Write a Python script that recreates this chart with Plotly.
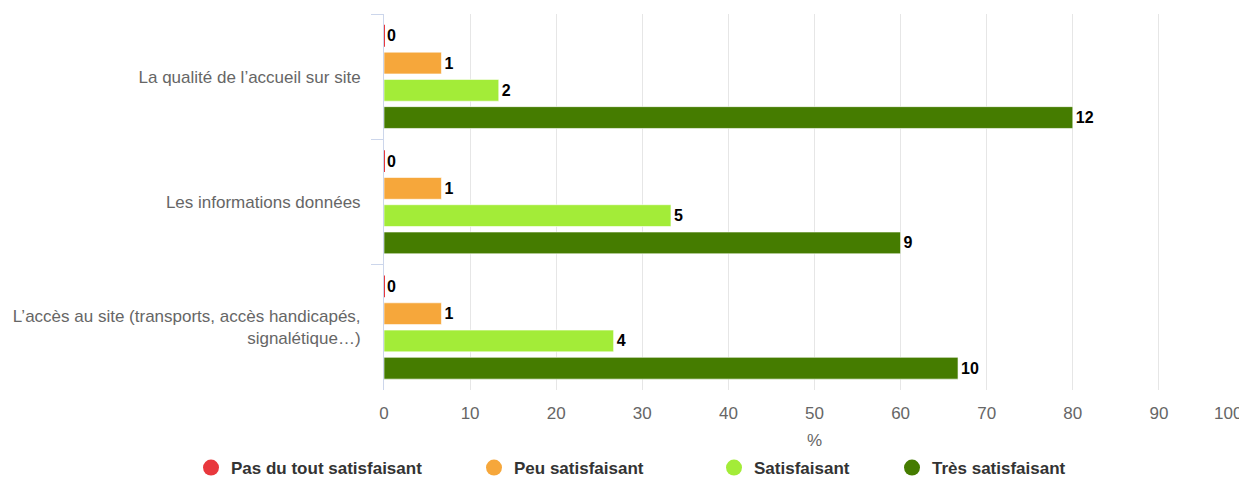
import plotly.graph_objects as go

categories = [
    "La qualité de l’accueil sur site",
    "Les informations données",
    "L’accès au site (transports, accès handicapés,<br>signalétique…)",
]
series_names = ["Pas du tout satisfaisant", "Peu satisfaisant", "Satisfaisant", "Très satisfaisant"]
series_colors = ["#e8383d", "#f6a73b", "#a3ec38", "#457c00"]

pct_pas_du_tout = [0, 0, 0]
pct_peu = [6.67, 6.67, 6.67]
pct_satisfaisant = [13.33, 33.33, 26.67]
pct_tres = [80.0, 60.0, 66.67]

count_pas_du_tout = [0, 0, 0]
count_peu = [1, 1, 1]
count_satisfaisant = [2, 5, 4]
count_tres = [12, 9, 10]

x_ticks = [0, 10, 20, 30, 40, 50, 60, 70, 80, 90, 100]

pct_values = [pct_pas_du_tout, pct_peu, pct_satisfaisant, pct_tres]
count_values = [count_pas_du_tout, count_peu, count_satisfaisant, count_tres]

FONT = "Liberation Sans, Arial, Helvetica, sans-serif"

# page body has an 8px margin: compensate so the page does not overflow
W, H = 1239, 486
legend_left_px = [183, 466, 706, 884]
legend_ids = ["legend", "legend2", "legend3", "legend4"]

fig = go.Figure()
for i, (name, color) in enumerate(zip(series_names, series_colors)):
    is_zero_series = i == 0
    fig.add_trace(go.Bar(
        y=categories,
        x=pct_values[i],
        orientation="h",
        name=name,
        marker=dict(color=color,
                    line=dict(color=color if is_zero_series else "white",
                              width=2 if is_zero_series else 0.6)),
        text=[str(c) for c in count_values[i]],
        textposition="outside",
        textfont=dict(family=FONT, size=16, color="#000000", weight="bold"),
        cliponaxis=False,
        showlegend=False,
        hoverinfo="x+name",
    ))
    fig.add_trace(go.Scatter(
        x=[None], y=[None], mode="markers", name=name,
        marker=dict(symbol="circle", size=18, color=color),
        showlegend=True,
        legend=legend_ids[i],
    ))

layout_legends = {}
for lid, px in zip(legend_ids, legend_left_px):
    layout_legends[lid] = dict(
        orientation="h",
        xref="container", x=px / W, xanchor="left",
        yref="container", y=26 / H, yanchor="middle",
        font=dict(family=FONT, size=17, color="#333333", weight="bold"),
        bgcolor="rgba(0,0,0,0)",
        borderwidth=0,
    )

tick_text = [str(v) if v != 100 else "" for v in x_ticks]

fig.update_layout(
    width=W, height=H,
    barmode="group",
    bargap=0.13,
    bargroupgap=0.2,
    plot_bgcolor="white",
    paper_bgcolor="white",
    margin=dict(l=376, r=2, t=6, b=104, autoexpand=False),
    font=dict(family=FONT, size=17, color="#666666"),
    xaxis=dict(
        range=[0, 100],
        tickvals=x_ticks,
        ticktext=tick_text,
        showgrid=True, gridcolor="#e6e6e6", gridwidth=1,
        zeroline=False, showline=False,
        ticks="", tickfont=dict(family=FONT, size=17, color="#666666"),
        ticklabelstandoff=11,
        title=dict(text="%", font=dict(family=FONT, size=17, color="#666666"), standoff=17),
    ),
    yaxis=dict(
        categoryorder="array", categoryarray=categories,
        autorange="reversed",
        showgrid=False, zeroline=False,
        showline=True, linecolor="#ccd6eb", linewidth=1,
        ticks="outside", tickson="boundaries", ticklen=12, tickcolor="#ccd6eb",
        tickfont=dict(family=FONT, size=17, color="#666666"),
        ticklabelstandoff=19,
    ),
    annotations=[dict(
        x=x_ticks[-1], xref="x", y=0, yref="paper",
        text=str(x_ticks[-1]), showarrow=False,
        xanchor="right", yanchor="middle", yshift=-23, xshift=-1,
        font=dict(family=FONT, size=17, color="#666666"),
    )],
    **layout_legends,
)

fig.write_html("out.html")
